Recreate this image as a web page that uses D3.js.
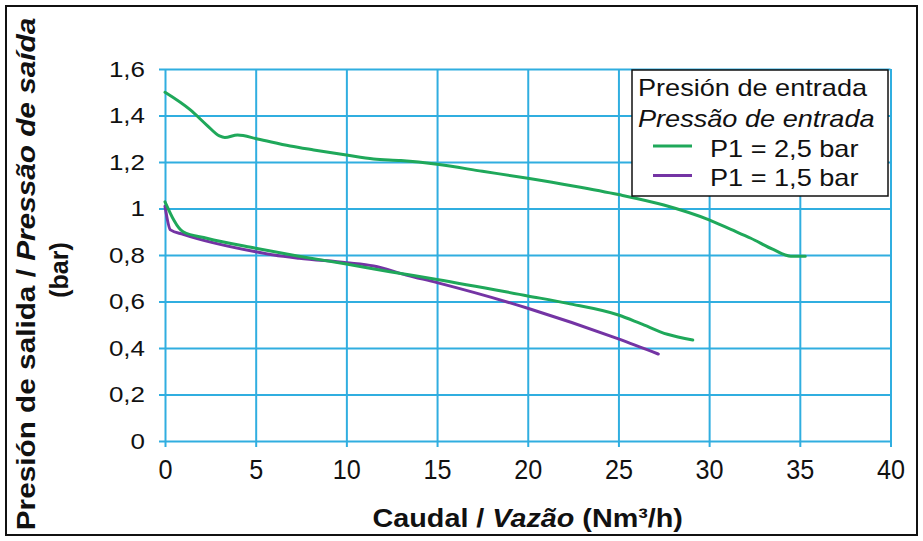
<!DOCTYPE html>
<html>
<head>
<meta charset="utf-8">
<script src="https://cdn.jsdelivr.net/npm/d3@7"></script>
<style>
  html, body { margin: 0; padding: 0; background: #fff; }
  svg { display: block; font-family: "Liberation Sans", Arial, sans-serif; }
</style>
</head>
<body>
<svg id="chart" width="923" height="541"></svg>
<script>
// ---- data ----
const xTicks = [0, 5, 10, 15, 20, 25, 30, 35, 40];
const yTicks = [0, 0.2, 0.4, 0.6, 0.8, 1.0, 1.2, 1.4, 1.6];
const yTickLabels = ["0", "0,2", "0,4", "0,6", "0,8", "1", "1,2", "1,4", "1,6"];

const seriesNames = ["P1 = 2,5 bar", "P1 = 1,5 bar"];

// P1 = 2,5 bar, upper branch
const green1X = [0, 1.4, 2.3, 3.0, 3.3, 4.0, 5.1, 6.9, 8.2, 10.0, 11.5, 13.0, 15.0, 17.5, 20.0, 22.5, 25.0, 27.5, 30.0, 31.2, 32.3, 33.5, 34.5, 35.3];
const green1Y = [1.50, 1.424, 1.359, 1.312, 1.305, 1.316, 1.299, 1.269, 1.252, 1.230, 1.213, 1.206, 1.19, 1.16, 1.13, 1.097, 1.06, 1.015, 0.951, 0.91, 0.872, 0.825, 0.795, 0.795];
// P1 = 2,5 bar, lower branch
const green2X = [0, 1.0, 2.3, 5.0, 7.3, 10.0, 12.4, 15.0, 20.0, 22.2, 25.0, 26.2, 27.7, 29.1];
const green2Y = [1.029, 0.900, 0.872, 0.829, 0.796, 0.761, 0.728, 0.695, 0.624, 0.592, 0.542, 0.506, 0.459, 0.434];
// P1 = 1,5 bar
const purpleX = [0, 0.3, 1.0, 5.0, 6.0, 7.4, 10.0, 11.5, 13.3, 15.0, 20.0, 25.0, 27.2];
const purpleY = [1.01, 0.908, 0.889, 0.814, 0.800, 0.786, 0.767, 0.753, 0.714, 0.681, 0.571, 0.439, 0.374];

const colors = { green: "#1fa85a", purple: "#7434a4", grid: "#30aee0" };

// ---- setup ----
const svg = d3.select("#chart");
const W = 923, H = 541;
svg.append("rect").attr("x", 0).attr("y", 0).attr("width", W).attr("height", H).attr("fill", "#fff");
svg.append("rect").attr("x", 6).attr("y", 6).attr("width", 911).attr("height", 529)
  .attr("fill", "none").attr("stroke", "#111").attr("stroke-width", 2);

const x = d3.scaleLinear().domain([0, 40]).range([165, 890.5]);
const y = d3.scaleLinear().domain([0, 1.6]).range([441, 69]);

function stretch(sel, k) {
  sel.each(function () {
    const t = d3.select(this);
    const tx = +t.attr("x") || 0;
    t.attr("x", tx / k).attr("transform", `scale(${k},1)`);
  });
}

// y axis (grid + labels)
const yAxis = d3.axisLeft(y).tickValues(yTicks)
  .tickFormat((d, i) => yTickLabels[i])
  .tickSize(-(x(40) - x(0) + 6)).tickPadding(14);
const gy = svg.append("g").attr("transform", `translate(${x(0) - 6},0)`).call(yAxis);
gy.select(".domain").remove();
gy.selectAll(".tick line").attr("stroke", colors.grid).attr("stroke-width", 2);
gy.selectAll(".tick text").attr("font-size", 22).attr("fill", "#111")
  .attr("font-family", "Liberation Sans, Arial, sans-serif");
stretch(gy.selectAll(".tick text"), 1.18);

// x axis (grid + labels)
const xAxis = d3.axisBottom(x).tickValues(xTicks)
  .tickSize(-(y(0) - y(1.6) + 6)).tickPadding(12);
const gx = svg.append("g").attr("transform", `translate(0,${y(0) + 6})`).call(xAxis);
gx.select(".domain").remove();
gx.selectAll(".tick line").attr("stroke", colors.grid).attr("stroke-width", 2);
gx.selectAll(".tick text").attr("font-size", 28).attr("fill", "#111")
  .attr("font-family", "Liberation Sans, Arial, sans-serif");
stretch(gx.selectAll(".tick text"), 0.9);

// lines
const line = d3.line().x(d => x(d[0])).y(d => y(d[1])).curve(d3.curveMonotoneX);
const zip = (a, b) => a.map((v, i) => [v, b[i]]);
const curves = [
  { pts: zip(purpleX, purpleY), color: colors.purple },
  { pts: zip(green2X, green2Y), color: colors.green },
  { pts: zip(green1X, green1Y), color: colors.green }
];
svg.append("g").selectAll("path").data(curves).join("path")
  .attr("d", d => line(d.pts)).attr("fill", "none")
  .attr("stroke", d => d.color).attr("stroke-width", 3)
  .attr("stroke-linejoin", "round").attr("stroke-linecap", "round");

// legend
const lg = svg.append("g");
lg.append("rect").attr("x", 632).attr("y", 70).attr("width", 256).attr("height", 126)
  .attr("fill", "#fff").attr("stroke", "#111").attr("stroke-width", 1.5);
const legendTitle = lg.append("text").attr("font-size", 24).attr("fill", "#111");
legendTitle.append("tspan").attr("x", 638 / 1.13).attr("y", 96).text("Presión de entrada");
legendTitle.append("tspan").attr("x", 638 / 1.13).attr("y", 127).attr("font-style", "italic").text("Pressão de entrada");
legendTitle.attr("transform", "scale(1.13,1)");
const legendColors = [colors.green, colors.purple];
seriesNames.forEach((name, i) => {
  const yy = 157 + i * 29.5;
  lg.append("line").attr("x1", 653).attr("x2", 692).attr("y1", yy - 11).attr("y2", yy - 11)
    .attr("stroke", legendColors[i]).attr("stroke-width", 3);
  lg.append("text").attr("x", 710 / 1.13).attr("y", yy).attr("font-size", 24).attr("fill", "#111")
    .attr("transform", "scale(1.13,1)").text(name);
});

// x title
const xt = svg.append("text").attr("font-size", 25).attr("font-weight", "bold").attr("fill", "#111")
  .attr("text-anchor", "middle")
  .attr("transform", `translate(${(x(0) + x(40)) / 2},527) scale(1.15,1)`);
xt.append("tspan").text("Caudal / ");
xt.append("tspan").attr("font-style", "italic").text("Vazão");
xt.append("tspan").text(" (Nm³/h)");

// y title
const yt = svg.append("text").attr("font-size", 25).attr("font-weight", "bold").attr("fill", "#111")
  .attr("text-anchor", "middle")
  .attr("transform", `translate(35,274) rotate(-90) scale(1.19,1)`);
yt.append("tspan").text("Presión de salida / ");
yt.append("tspan").attr("font-style", "italic").text("Pressão de saída");
svg.append("text").attr("font-size", 25).attr("font-weight", "bold").attr("fill", "#111")
  .attr("text-anchor", "middle")
  .attr("transform", `translate(68,270) rotate(-90)`).text("(bar)");
</script>
</body>
</html>
